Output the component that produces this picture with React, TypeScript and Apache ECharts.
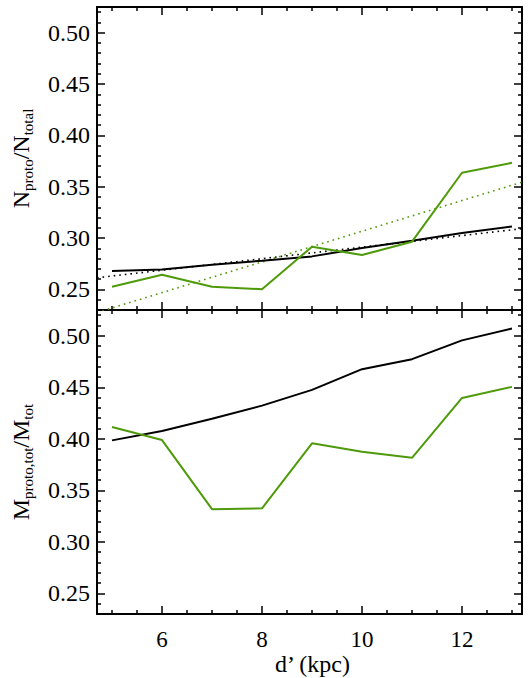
import React, { useEffect, useRef } from "react";
import * as echarts from "echarts";

// ---- data ----
const dValues = [5, 6, 7, 8, 9, 10, 11, 12, 13];
// top panel: N_proto / N_total
const nRatioBlack = [0.268, 0.2695, 0.274, 0.278, 0.2822, 0.2903, 0.2975, 0.305, 0.3112];
const nRatioGreen = [0.2526, 0.2643, 0.2526, 0.2502, 0.2916, 0.2835, 0.2965, 0.3636, 0.3733];
// linear fits (endpoints at x-range edges)
const fitX = [4.7, 13.2];
const nFitBlack = [0.2614, 0.3092];
const nFitGreen = [0.2275, 0.3545];
// bottom panel: M_proto,tot / M_tot
const mRatioBlack = [0.3985, 0.4076, 0.4195, 0.4322, 0.4475, 0.4676, 0.4773, 0.4955, 0.507];
const mRatioGreen = [0.4114, 0.3988, 0.3317, 0.3326, 0.3956, 0.3874, 0.3816, 0.4397, 0.4504];

// ticks
const xMajorTicks = [6, 8, 10, 12];
const yMajorTicks = [0.25, 0.3, 0.35, 0.4, 0.45, 0.5];
const yTickLabels = ["0.25", "0.30", "0.35", "0.40", "0.45", "0.50"];
const xTitle = "d\u2019 (kpc)";

const X_MIN = 4.7;
const X_MAX = 13.2;
const Y_MIN = 0.23;
const Y_MAX = 0.525;

const xMinorTicks: number[] = [];
for (let i = 10; i <= 26; i++) {
  const v = i / 2;
  if (!xMajorTicks.includes(v)) xMinorTicks.push(v);
}
const yMinorTicks: number[] = [];
for (let i = 23; i <= 52; i++) {
  const v = i / 100;
  if (!yMajorTicks.some((m) => Math.abs(m - v) < 1e-9)) yMinorTicks.push(v);
}

const GREEN = "#4f9a0a";
const FONT = "Liberation Serif";

export default function App() {
  const ref = useRef<HTMLDivElement>(null);

  useEffect(() => {
    if (!ref.current) return;
    const chart = echarts.init(ref.current, null, { renderer: "svg" });

    const grids = [
      { left: 97, top: 7, width: 425, height: 303 },
      { left: 97, top: 310, width: 425, height: 304 },
    ];

    const lineStyle = { color: "#000", width: 2 };
    const tickStyle = { color: "#000", width: 1.5 };

    const xAxes: any[] = [];
    const yAxes: any[] = [];
    grids.forEach((_, g) => {
      (["bottom", "top"] as const).forEach((pos) => {
        xAxes.push({
          type: "value",
          gridIndex: g,
          position: pos,
          min: X_MIN,
          max: X_MAX,
          axisLine: { show: true, onZero: false, lineStyle },
          splitLine: { show: false },
          axisTick: { show: true, inside: true, length: 8, customValues: xMajorTicks, lineStyle: tickStyle },
          axisLabel: { show: false },
        });
        xAxes.push({
          type: "value",
          gridIndex: g,
          position: pos,
          min: X_MIN,
          max: X_MAX,
          axisLine: { show: false, onZero: false },
          splitLine: { show: false },
          axisTick: { show: true, inside: true, length: 4, customValues: xMinorTicks, lineStyle: tickStyle },
          axisLabel: { show: false },
        });
      });
      (["left", "right"] as const).forEach((pos) => {
        yAxes.push({
          type: "value",
          gridIndex: g,
          position: pos,
          min: Y_MIN,
          max: Y_MAX,
          axisLine: { show: true, onZero: false, lineStyle },
          splitLine: { show: false },
          axisTick: { show: true, inside: true, length: 8, customValues: yMajorTicks, lineStyle: tickStyle },
          axisLabel: { show: false },
        });
        yAxes.push({
          type: "value",
          gridIndex: g,
          position: pos,
          min: Y_MIN,
          max: Y_MAX,
          axisLine: { show: false, onZero: false },
          splitLine: { show: false },
          axisTick: { show: true, inside: true, length: 4, customValues: yMinorTicks, lineStyle: tickStyle },
          axisLabel: { show: false },
        });
      });
    });

    const pair = (xs: number[], ys: number[]) => xs.map((x, i) => [x, ys[i]]);
    const solid = (color: string) => ({ color, width: 2 });
    const dotted = (color: string) => ({ color, width: 1.6, type: [1.6, 4] });

    const mkSeries = (g: number, data: number[][], ls: any) => ({
      type: "line",
      xAxisIndex: g * 4,
      yAxisIndex: g * 4,
      data,
      showSymbol: false,
      symbol: "none",
      clip: true,
      lineStyle: ls,
      z: 3,
    });

    chart.setOption({
      animation: false,
      backgroundColor: "#fff",
      grid: grids,
      xAxis: xAxes,
      yAxis: yAxes,
      series: [
        mkSeries(0, pair(fitX, nFitBlack), dotted("#000")),
        mkSeries(0, pair(fitX, nFitGreen), dotted(GREEN)),
        mkSeries(0, pair(dValues, nRatioBlack), solid("#000")),
        mkSeries(0, pair(dValues, nRatioGreen), solid(GREEN)),
        mkSeries(1, pair(dValues, mRatioBlack), solid("#000")),
        mkSeries(1, pair(dValues, mRatioGreen), solid(GREEN)),
      ],
    });

    // Tick labels placed with the library's own scales (convertToPixel)
    const rich = {
      n: { fontFamily: FONT, fontSize: 24, color: "#000", lineHeight: 27, verticalAlign: "top" },
      s: {
        fontFamily: FONT,
        fontSize: 15,
        color: "#000",
        lineHeight: 15,
        verticalAlign: "top",
        padding: [12, 0, 0, 0],
      },
      y: { fontFamily: FONT, fontSize: 24, fontWeight: "normal", color: "#000", lineHeight: 24 },
      x: { fontFamily: FONT, fontSize: 23, fontWeight: "normal", color: "#000", lineHeight: 23 },
    };
    const graphics: any[] = [];
    [0, 1].forEach((g) => {
      const axisX = grids[g].left;
      yMajorTicks.forEach((v, i) => {
        const py = chart.convertToPixel({ yAxisIndex: g * 4 } as any, v) as number;
        graphics.push({
          type: "text",
          x: axisX - 7,
          y: py,
          style: {
            text: `{y|${yTickLabels[i]}}`,
            rich,
            align: "right",
            verticalAlign: "middle",
          },
        });
      });
    });
    const bottomY = grids[1].top + grids[1].height;
    xMajorTicks.forEach((v) => {
      const px = chart.convertToPixel({ xAxisIndex: 4 } as any, v) as number;
      graphics.push({
        type: "text",
        x: px,
        y: bottomY + 14,
        style: {
          text: `{x|${v}}`,
          rich,
          align: "center",
          verticalAlign: "top",
        },
      });
    });
    graphics.push({
      type: "text",
      x: grids[1].left + grids[1].width / 2 + 3,
      y: 664,
      style: {
        text: `{y|${xTitle}}`,
        rich,
        align: "center",
        verticalAlign: "middle",
      },
    });
    graphics.push({
      type: "text",
      x: 22,
      y: grids[0].top + grids[0].height / 2,
      rotation: Math.PI / 2,
      style: {
        text: "{n|N}{s|proto}{n|/N}{s|total}",
        rich,
        align: "center",
        verticalAlign: "middle",
      },
    });
    graphics.push({
      type: "text",
      x: 22,
      y: grids[1].top + grids[1].height / 2,
      rotation: Math.PI / 2,
      style: {
        text: "{n|M}{s|proto,tot}{n|/M}{s|tot}",
        rich,
        align: "center",
        verticalAlign: "middle",
      },
    });
    chart.setOption({ graphic: graphics });

    return () => chart.dispose();
  }, []);

  return (
    <div
      ref={ref}
      style={{ position: "absolute", left: 0, top: 0, width: 528, height: 678 }}
    />
  );
}
